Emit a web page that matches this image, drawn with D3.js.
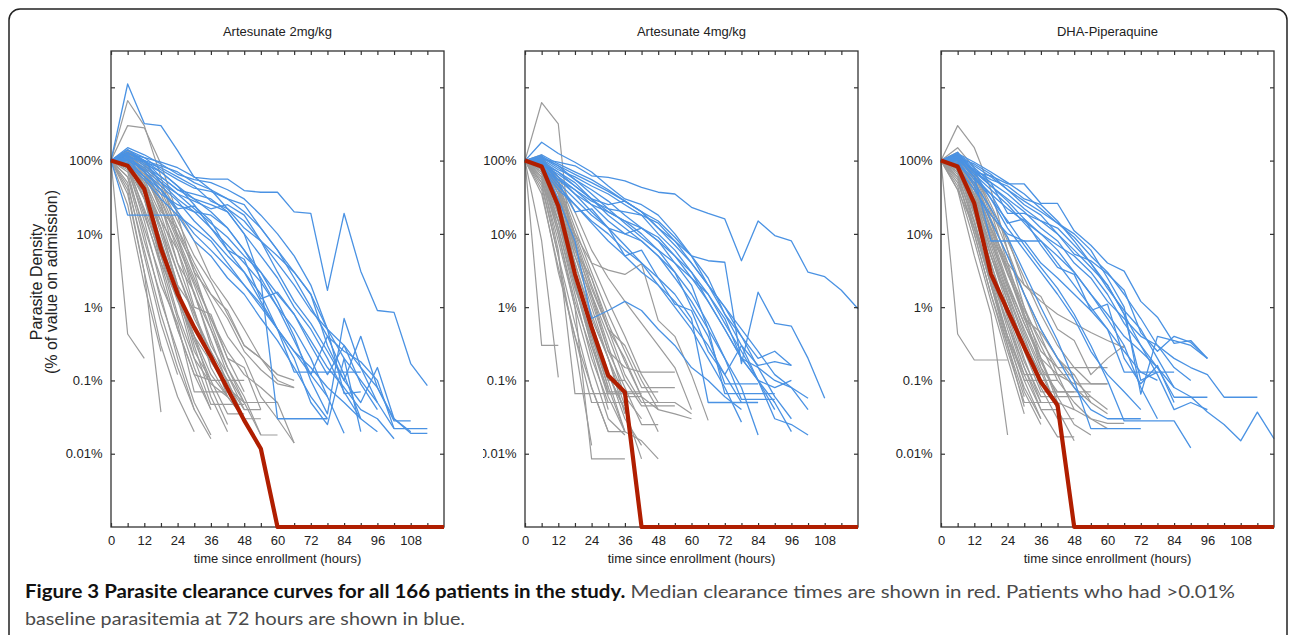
<!doctype html>
<meta charset="utf-8">
<style>
 body { margin: 0; background: #fff; }
 svg text { font-family: "Liberation Sans", Arial, sans-serif; }
 .series path { fill: none; stroke-linejoin: round; }
 .caption text { font-family: Lato, "Open Sans", sans-serif; }
</style>

<svg width="1290" height="635"></svg>

<script src="https://d3js.org/d3.v7.min.js"></script>
<script>
 // Sampling times (hours since enrollment); value k of every series is at hours[k]
 var hours = [0, 6, 12, 18, 24, 30, 36, 42, 48, 54, 60, 66, 72, 78, 84, 90, 96, 102, 108, 114, 120];

 var panelTitles = ['Artesunate 2mg/kg', 'Artesunate 4mg/kg', 'DHA-Piperaquine'];
 var yTicks = [0.01, 0.1, 1, 10, 100, 1000];

 // Parasite density, % of value on admission. 0 = cleared.
 var as2Median = [100, 85, 41, 6.3, 1.52, 0.53, 0.21, 0.077, 0.0285, 0.0117, 0, 0, 0, 0, 0, 0, 0, 0, 0, 0, 0];
 var as4Median = [100, 83, 24, 2.85, 0.53, 0.117, 0.069, 0, 0, 0, 0, 0, 0, 0, 0, 0, 0, 0, 0, 0, 0];
 var dhaMedian = [100, 83, 26, 2.85, 0.9, 0.285, 0.095, 0.046, 0, 0, 0, 0, 0, 0, 0, 0, 0, 0, 0, 0, 0];

 // patients cleared by 72 h (grey)
 var as2Cleared = [
   [100, 660, 300, 60, 9, 1.5, 0.35, 0.09, 0.04],
   [100, 300, 280, 90, 18, 3, 0.6, 0.15, 0.05, 0.05],
   [100, 0.43, 0.2],
   [100, 40, 3, 0.037],
   [100, 130, 60, 12, 2, 0.3, 0.06, 0.02],
   [100, 120, 45, 8, 1.6, 0.25, 0.1, 0.1],
   [100, 110, 30, 5, 0.8, 0.2, 0.047, 0.047, 0.047],
   [100, 90, 20, 3.5, 0.5, 0.12, 0.1],
   [100, 80, 15, 2, 0.6, 0.07, 0.07, 0.07],
   [100, 70, 10, 1.2, 0.25, 0.05, 0.018],
   [100, 60, 8, 1.4, 0.2, 0.04],
   [100, 50, 5, 0.6, 0.12],
   [100, 35, 3, 0.3, 0.06, 0.02],
   [100, 25, 2, 0.25],
   [100, 120, 70, 25, 6, 1.5, 0.5, 0.12, 0.05, 0.018, 0.018],
   [100, 115, 80, 40, 12, 4, 1.5, 0.7, 0.25, 0.14, 0.09, 0.08],
   [100, 130, 85, 35, 10, 3.5, 1.2, 0.4, 0.2, 0.06, 0.03, 0.014],
   [100, 140, 90, 45, 15, 5, 2.2, 0.8, 0.3, 0.2, 0.12, 0.1],
   [100, 110, 60, 25, 4, 1.6, 0.3, 0.12, 0.04, 0.04],
   [100, 100, 50, 15, 3, 0.7, 0.25, 0.06, 0.03],
   [100, 95, 35, 12, 2, 0.9, 0.15, 0.06],
   [100, 105, 55, 18, 4, 0.9, 0.2, 0.1, 0.1],
   [100, 90, 35, 8, 1.5, 0.4, 0.08, 0.025],
   [100, 80, 30, 4, 1.3, 0.2, 0.09, 0.06],
   [100, 75, 18, 4, 0.7, 0.15, 0.04],
   [100, 120, 65, 22, 7, 2, 0.5, 0.15, 0.06, 0.018],
   [100, 100, 45, 12, 3, 0.8, 0.25, 0.1, 0.03],
   [100, 130, 75, 30, 9, 2.5, 0.7, 0.2, 0.07],
   [100, 95, 30, 7, 1.3, 0.35, 0.1, 0.035, 0.035],
   [100, 60, 12, 2.5, 0.5, 0.12, 0.04],
   [100, 110, 50, 10, 1.8, 0.4, 0.12, 0.06, 0.03, 0.03],
   [100, 80, 22, 5, 1.2, 0.4, 0.18, 0.08, 0.05, 0.05, 0.05],
   [100, 125, 70, 28, 8, 2.2, 0.7, 0.25, 0.12, 0.08, 0.05, 0.014],
   [100, 45, 6, 0.8, 0.15, 0.04, 0.016],
   [100, 120, 75, 20, 12, 3, 1.5, 0.9, 0.3, 0.2, 0.1, 0.08],
   [100, 90, 40, 15, 6, 1, 0.8, 0.2, 0.15, 0.04],
   [100, 135, 95, 50, 20, 8, 2.5, 1.2, 0.5, 0.2, 0.12]
 ];

 // patients still above 0.01% at 72 h (blue)
 var as2Persistent = [
   [100, 1110, 320, 300, 137, 59, 56, 56, 39, 37, 37, 20, 19, 1.7, 19, 3.1, 0.9, 0.85, 0.17, 0.085],
   [100, 18, 18, 18, 18, 8, 5, 2.5, 1.5, 0.7, 0.35, 0.15, 0.06, 0.03],
   [100, 120, 85, 60, 40, 30, 25, 20, 10, 2.3, 0.03, 0.03, 0.03, 0.03],
   [100, 130, 90, 70, 45, 30, 20, 12, 6, 3, 1.2, 0.4, 0.1, 0.035, 0.7, 0.15, 0.05, 0.022],
   [100, 140, 110, 75, 55, 42, 38, 30, 20, 12, 6, 2.5, 1, 0.4, 0.25, 0.18, 0.1, 0.022, 0.022, 0.022],
   [100, 115, 95, 80, 60, 45, 28, 22, 15, 8, 4, 2, 0.9, 0.5, 0.3, 0.15, 0.08, 0.028, 0.028],
   [100, 105, 80, 55, 35, 22, 14, 9, 5, 3, 1.5, 0.8, 0.35, 0.15, 0.08, 0.04, 0.03, 0.016],
   [100, 125, 100, 50, 30, 20, 12, 7, 4, 2.2, 1, 0.5, 0.2, 0.06, 0.019],
   [100, 110, 70, 45, 28, 15, 9, 5, 3, 1.5, 0.5, 0.13, 0.13, 0.13, 0.13, 0.13],
   [100, 150, 120, 90, 65, 55, 50, 40, 30, 18, 10, 5, 2, 0.5, 0.066, 0.07],
   [100, 95, 60, 35, 25, 20, 18, 12, 6, 2.5, 1, 0.35, 0.12, 0.4, 0.12, 0.03, 0.02],
   [100, 130, 100, 85, 70, 50, 40, 30, 25, 12, 6, 3, 1.5, 0.3, 0.1, 0.4, 0.08, 0.03, 0.02],
   [100, 110, 100, 70, 45, 25, 12, 6, 3, 1.2, 0.5, 0.25, 0.15, 0.08, 0.05, 0.03],
   [100, 120, 70, 40, 20, 10, 6, 3.5, 2, 1.1, 0.5, 0.2, 0.05, 0.025, 0.2, 0.02],
   [100, 100, 75, 50, 35, 28, 22, 25, 18, 8, 3, 1.2, 0.6, 0.25, 0.1, 0.05, 0.15, 0.03, 0.019, 0.019],
   [100, 140, 100, 60, 40, 35, 30, 20, 10, 5, 2.5, 1, 0.5, 0.2, 0.07, 0.03],
   [100, 90, 55, 30, 18, 12, 8, 4, 2, 1, 0.5, 0.25, 0.12, 0.06],
   [100, 125, 110, 95, 80, 60, 40, 22, 12, 8, 5, 3, 1.5, 0.5, 0.2, 0.1, 0.05],
   [100, 105, 60, 40, 22, 24, 15, 6, 4.5, 1.3, 1.6, 0.8, 0.3, 0.12, 0.3, 0.09, 0.04]
 ];

 var as4Cleared = [
   [100, 620, 316, 2, 0.4, 0.08],
   [100, 0.3, 0.3],
   [100, 8, 0.11],
   [100, 40, 3, 0.4, 0.08, 0.02],
   [100, 60, 6, 0.066, 0.066, 0.066, 0.066, 0.066],
   [100, 70, 10, 1, 0.0085, 0.0085, 0.0085],
   [100, 80, 15, 2, 0.3, 0.06, 0.02, 0.015, 0.0085],
   [100, 50, 5, 0.3, 0.013],
   [100, 90, 20, 3, 0.5, 0.12, 0.04],
   [100, 110, 35, 5, 1.4, 0.25, 0.15, 0.13, 0.13, 0.13],
   [100, 120, 45, 8, 1.8, 0.5, 0.2, 0.06, 0.04, 0.035, 0.03],
   [100, 115, 50, 10, 4, 3.2, 2.8, 3.9, 0.66, 0.4, 0.12, 0.0285],
   [100, 105, 40, 7, 1.5, 0.3, 0.06, 0.03],
   [100, 95, 30, 4, 0.7, 0.2, 0.035],
   [100, 85, 22, 3, 0.5, 0.08, 0.02],
   [100, 75, 18, 2.2, 0.35, 0.066, 0.066],
   [100, 65, 12, 1.5, 0.2, 0.05, 0.05],
   [100, 55, 8, 1, 0.15, 0.03, 0.018],
   [100, 45, 5, 0.6, 0.08, 0.02, 0.02],
   [100, 35, 3.5, 0.4, 0.05, 0.05],
   [100, 100, 35, 6, 1.2, 0.25, 0.08, 0.025, 0.025],
   [100, 110, 45, 9, 2, 0.5, 0.12, 0.05, 0.05, 0.05],
   [100, 90, 25, 4, 0.8, 0.2, 0.06, 0.06],
   [100, 80, 20, 2.8, 0.6, 0.12, 0.04, 0.0085],
   [100, 70, 15, 2, 0.3, 0.07, 0.07, 0.07, 0.07],
   [100, 100, 50, 12, 3, 0.8, 0.25, 0.08, 0.08, 0.08],
   [100, 95, 28, 5, 1, 0.2, 0.045],
   [100, 60, 10, 1.2, 0.25, 0.04],
   [100, 75, 12, 1.8, 0.4, 0.1, 0.02],
   [100, 85, 35, 7, 1.5, 0.4, 0.1, 0.045, 0.045, 0.045],
   [100, 105, 42, 10, 2.5, 0.6, 0.18, 0.06, 0.02],
   [100, 110, 55, 15, 4, 1.2, 0.4, 0.12, 0.05, 0.05, 0.035],
   [100, 95, 20, 2.5, 0.45, 0.1, 0.1],
   [100, 50, 15, 3, 0.6, 0.13, 0.03, 0.013],
   [100, 110, 60, 20, 6, 2.5, 1.2, 0.6, 0.3, 0.15, 0.04],
   [100, 90, 40, 6, 2.5, 0.5, 0.3, 0.1, 0.04]
 ];

 var as4Persistent = [
   [100, 105, 95, 85, 62, 59, 53, 43, 37, 35, 23, 19, 16, 4.3, 15, 9.5, 8, 3, 2.6, 1.7, 0.95],
   [100, 178, 125, 95, 70, 45, 30, 25, 18, 10, 5, 2, 1, 0.4, 0.2, 0.25, 0.16],
   [100, 90, 70, 50, 30, 25, 28, 20, 12, 8, 5, 4.3, 4.1, 0.17, 1.6, 0.6, 0.55, 0.2, 0.057],
   [100, 95, 60, 40, 25, 15, 10, 12, 8, 4, 2, 0.5, 0.066, 0.066, 0.066, 0.066],
   [100, 85, 50, 30, 18, 12, 10, 8, 5, 3, 1.5, 0.6, 0.2, 0.055, 0.055, 0.055],
   [100, 80, 40, 25, 15, 10, 6, 4, 2.5, 1.5, 0.7, 0.05, 0.05, 0.05, 0.05],
   [100, 100, 70, 45, 30, 20, 15, 10, 6, 3, 1, 0.4, 0.09, 0.09, 0.09],
   [100, 90, 65, 45, 30, 18, 12, 8, 5, 2.5, 1.2, 0.5, 0.2, 0.08, 0.018],
   [100, 110, 80, 55, 40, 28, 18, 12, 8, 5, 2.5, 1.2, 0.5, 0.2, 0.1, 0.05, 0.02],
   [100, 120, 90, 70, 55, 40, 28, 20, 12, 7, 4, 2, 1, 0.5, 0.25, 0.12, 0.08, 0.04],
   [100, 95, 55, 35, 20, 12, 7, 4, 2, 1, 0.5, 0.2, 0.08, 0.027],
   [100, 105, 75, 60, 45, 35, 25, 18, 10, 6, 3, 1.2, 0.5, 0.2, 0.15, 0.1, 0.08, 0.057],
   [100, 95, 30, 8, 0.7, 0.9, 1.2, 0.9, 0.5, 0.3, 0.15, 0.1, 0.06, 0.04],
   [100, 110, 85, 65, 50, 38, 28, 20, 15, 9, 5, 2.5, 0.8, 0.3, 0.16, 0.18, 0.16],
   [100, 100, 60, 35, 25, 20, 15, 12, 9, 5, 3, 1.5, 0.7, 0.2, 0.1, 0.08, 0.1],
   [100, 115, 85, 55, 35, 22, 14, 9, 6, 4, 2.5, 1.5, 0.6, 0.25, 0.1, 0.03, 0.025, 0.018],
   [100, 85, 45, 25, 14, 8, 5, 3, 2, 1.2, 0.6, 0.3, 0.12, 0.05],
   [100, 90, 55, 40, 28, 22, 20, 18, 14, 8, 4, 2, 0.8, 0.4, 0.15, 0.06, 0.03],
   [100, 100, 50, 20, 22, 12, 5, 6, 2.5, 1.1, 0.9, 0.25, 0.12, 0.3, 0.1, 0.04]
 ];

 var dhaCleared = [
   [100, 300, 150, 40, 6, 1, 0.2, 0.05],
   [100, 0.43, 0.19, 0.19, 0.19],
   [100, 150, 80, 20, 4, 0.8, 0.15, 0.04],
   [100, 40, 5, 0.8, 0.018],
   [100, 60, 10, 1.5, 0.3, 0.044],
   [100, 80, 15, 2.5, 0.4, 0.1, 0.03],
   [100, 90, 20, 3, 0.6, 0.12, 0.04, 0.017, 0.017],
   [100, 70, 12, 2, 0.35, 0.08, 0.03],
   [100, 100, 35, 6, 1.2, 0.3, 0.1, 0.05, 0.04, 0.03, 0.026, 0.026],
   [100, 110, 45, 12, 4, 2, 1.2, 0.8, 0.6, 0.45, 0.35, 0.28],
   [100, 105, 40, 8, 2, 0.6, 0.2, 0.12, 0.09, 0.09, 0.09],
   [100, 95, 30, 5, 1.4, 0.25, 0.07, 0.07, 0.07],
   [100, 85, 25, 4, 0.8, 0.18, 0.06, 0.06],
   [100, 75, 18, 3, 0.5, 0.1, 0.1, 0.1],
   [100, 65, 14, 2.2, 0.4, 0.07, 0.025],
   [100, 55, 10, 1.5, 0.25, 0.05, 0.05],
   [100, 45, 8, 1.2, 0.2, 0.035],
   [100, 120, 60, 15, 3, 0.7, 0.2, 0.06, 0.025, 0.018],
   [100, 115, 55, 14, 3.5, 1, 0.3, 0.1, 0.05, 0.03, 0.022],
   [100, 100, 50, 12, 3, 0.8, 0.25, 0.15, 0.15, 0.15, 0.15],
   [100, 90, 35, 8, 1.8, 0.5, 0.15, 0.07, 0.07, 0.07],
   [100, 80, 22, 5, 1.2, 0.3, 0.08, 0.03, 0.03],
   [100, 95, 28, 6, 1.5, 0.35, 0.12, 0.12, 0.12],
   [100, 105, 48, 11, 2.8, 0.9, 0.35, 0.15, 0.08, 0.05, 0.035],
   [100, 110, 55, 16, 5, 1.5, 0.5, 0.2, 0.1, 0.06, 0.04],
   [100, 85, 30, 7, 1.6, 0.4, 0.1],
   [100, 70, 20, 4, 0.7, 0.15, 0.05, 0.05],
   [100, 60, 15, 2, 0.3, 0.06],
   [100, 130, 65, 22, 6, 1.5, 0.4, 0.12, 0.04],
   [100, 95, 40, 10, 2.2, 0.6, 0.18, 0.06, 0.06, 0.06],
   [100, 75, 25, 5, 1, 0.2, 0.05, 0.05],
   [100, 50, 12, 2.5, 0.6, 0.15, 0.04, 0.04],
   [100, 120, 70, 25, 8, 2.5, 0.8, 0.3, 0.15, 0.09, 0.09],
   [100, 88, 33, 9, 2, 0.45, 0.13, 0.04, 0.015],
   [100, 40, 12, 2, 0.4, 0.12, 0.12],
   [100, 110, 65, 18, 9, 2, 1.4, 0.5, 0.35, 0.12, 0.2, 0.3],
   [100, 100, 45, 9, 3.5, 0.7, 0.45, 0.2, 0.12, 0.05]
 ];

 var dhaPersistent = [
   [100, 130, 69, 62, 48, 48, 26, 26, 11, 7, 4, 3.1, 1.2, 0.73, 0.32, 0.35, 0.2],
   [100, 120, 80, 50, 19, 19, 15, 10, 5.3, 4.3, 2.85, 1.7, 0.45, 0.25, 0.4, 0.33, 0.2],
   [100, 115, 70, 45, 30, 20, 12, 8, 4, 2.5, 1.2, 0.7, 0.4, 0.3, 0.2, 0.15, 0.12, 0.059, 0.059, 0.059],
   [100, 110, 75, 45, 28, 16, 10, 6, 3, 1.5, 0.8, 0.4, 0.25, 0.15, 0.08, 0.06, 0.037, 0.025, 0.015, 0.037, 0.016],
   [100, 105, 60, 30, 15, 7, 3.5, 1.8, 0.8, 0.3, 0.1, 0.028, 0.028, 0.028, 0.028, 0.012],
   [100, 90, 50, 22, 9, 3, 1, 0.35, 0.1, 0.022, 0.022, 0.022, 0.022],
   [100, 100, 65, 40, 25, 14, 8, 4, 2, 1, 0.5, 0.13, 0.13, 0.13, 0.13],
   [100, 125, 85, 60, 40, 25, 18, 10, 6, 3.5, 2, 0.8, 0.3, 0.15, 0.059, 0.059, 0.059],
   [100, 110, 90, 65, 40, 28, 20, 14, 10, 6, 2.5, 1, 0.065, 0.4, 0.35, 0.3, 0.2],
   [100, 95, 55, 35, 22, 15, 10, 7, 5, 3, 1.5, 0.6, 0.3, 0.12, 0.04, 0.05, 0.04],
   [100, 120, 70, 50, 35, 22, 15, 12, 7, 4, 2, 0.8, 0.1, 0.13],
   [100, 105, 70, 30, 12, 6, 3, 1.5, 0.7, 0.25, 0.12, 0.07, 0.04],
   [100, 80, 40, 18, 10, 8, 8, 5, 3, 1.5, 0.7, 0.3, 0.08, 0.03],
   [100, 100, 45, 15, 5, 1.5, 0.5, 0.2, 0.08, 0.04, 0.03, 0.03, 0.03],
   [100, 110, 60, 8, 8, 8, 4, 2.5, 1.5, 0.9, 0.5, 0.25, 0.13, 0.1],
   [100, 115, 75, 55, 45, 30, 25, 15, 8, 4, 1.8, 0.9, 0.5, 0.2, 0.08],
   [100, 125, 95, 70, 50, 35, 22, 14, 9, 5, 3, 1.5, 0.7, 0.3, 0.15, 0.1],
   [100, 105, 60, 35, 14, 16, 7, 3.5, 2.8, 0.9, 1.1, 0.2, 0.09, 0.16, 0.05]
 ];

 var panels = [
   { title: panelTitles[0], median: as2Median, cleared: as2Cleared, persistent: as2Persistent },
   { title: panelTitles[1], median: as4Median, cleared: as4Cleared, persistent: as4Persistent },
   { title: panelTitles[2], median: dhaMedian, cleared: dhaCleared, persistent: dhaPersistent }
 ];

 // Layout
 var panelLeft = [111, 525, 941];
 var panelTop = 51;
 var width = 333, height = 476;
 var yFloor = 0.001;

 var svg = d3.select('svg');
 svg.append('rect').attr('width', 1290).attr('height', 635).attr('fill', '#fff');
 svg.append('rect')
   .attr('x', 9).attr('y', 9).attr('width', 1278).attr('height', 700).attr('rx', 11)
   .attr('fill', 'none').attr('stroke', '#222').attr('stroke-width', 1.5);

 var x = d3.scaleLinear().domain([0, 120]).range([0, width]);
 var y = d3.scaleLog().domain([yFloor, 3130]).range([height, 0]);

 var line = d3.line()
   .x(function(d, i) { return x(hours[i]); })
   .y(function(d) { return y(d > 0 ? d : yFloor); });

 // panel 2 is cut a little on its left side in the original figure
 svg.append('clipPath').attr('id', 'cut2')
   .append('rect').attr('x', -42).attr('y', -60).attr('width', 500).attr('height', 620);

 panels.forEach(function(p, k) {
   var g = svg.append('g').attr('transform', 'translate(' + panelLeft[k] + ',' + panelTop + ')');
   if (k === 1) g.attr('clip-path', 'url(#cut2)');

   g.append('text')
     .attr('x', width / 2).attr('y', -15)
     .attr('text-anchor', 'middle').attr('font-size', 13).attr('fill', '#222')
     .text(p.title);

   var s = g.append('g').attr('class', 'series');
   s.selectAll('.grey').data(p.cleared).join('path')
     .attr('class', 'grey').attr('d', line)
     .attr('stroke', '#9b9b9b').attr('stroke-width', 1.2);
   s.selectAll('.blue').data(p.persistent).join('path')
     .attr('class', 'blue').attr('d', line)
     .attr('stroke', '#4a92e3').attr('stroke-width', 1.3);

   g.append('rect').attr('width', width).attr('height', height)
     .attr('fill', 'none').attr('stroke', '#333').attr('stroke-width', 1.3);

   var tickHours = hours.slice(0, -1);
   g.append('g').attr('transform', 'translate(0,' + height + ')')
     .call(d3.axisBottom(x).tickValues(tickHours).tickSizeInner(-4).tickSizeOuter(0).tickPadding(9)
       .tickFormat(function(d) { return d % 12 === 0 ? d : ''; }));
   g.append('g')
     .call(d3.axisTop(x).tickValues(tickHours).tickSizeInner(-4).tickSizeOuter(0).tickFormat(''));
   g.append('g')
     .call(d3.axisLeft(y).tickValues(yTicks).tickSizeInner(-4).tickSizeOuter(0).tickPadding(8.5)
       .tickFormat(function(d) { return d === 1000 ? '' : d + '%'; }));
   g.append('g').attr('transform', 'translate(' + width + ',0)')
     .call(d3.axisRight(y).tickValues(yTicks).tickSizeInner(-4).tickSizeOuter(0).tickFormat(''));

   g.selectAll('.domain').remove();
   g.selectAll('.tick line').attr('stroke', '#333').attr('stroke-width', 1.2);
   g.selectAll('.tick text').attr('fill', '#222')
     .attr('font-family', '"Liberation Sans", Arial, sans-serif').attr('font-size', 13);

   g.append('text')
     .attr('x', width / 2).attr('y', height + 36)
     .attr('text-anchor', 'middle').attr('font-size', 13).attr('fill', '#222')
     .text('time since enrollment (hours)');

   g.append('path').attr('class', 'median')
     .attr('d', line(p.median))
     .attr('fill', 'none').attr('stroke', '#b01e00').attr('stroke-width', 4.2)
     .attr('stroke-linejoin', 'round');
 });

 // y axis title
 var yt = svg.append('g').attr('font-size', 16).attr('fill', '#222').attr('text-anchor', 'middle');
 yt.append('text').attr('transform', 'translate(41.5,282) rotate(-90)').text('Parasite Density');
 yt.append('text').attr('transform', 'translate(57,282) rotate(-90)').text('(% of value on admission)');

 // caption
 var cap = svg.append('g').attr('class', 'caption').attr('font-size', 18);
 var l1 = cap.append('text').attr('x', 25).attr('y', 598)
   .attr('textLength', 1210).attr('lengthAdjust', 'spacingAndGlyphs');
 l1.append('tspan').attr('font-weight', 'bold').attr('fill', '#111')
   .text('Figure 3 Parasite clearance curves for all 166 patients in the study.');
 l1.append('tspan').attr('fill', '#4a4a4a')
   .text(' Median clearance times are shown in red. Patients who had >0.01%');
 cap.append('text').attr('x', 25).attr('y', 625).attr('fill', '#4a4a4a')
   .attr('textLength', 440).attr('lengthAdjust', 'spacingAndGlyphs')
   .text('baseline parasitemia at 72 hours are shown in blue.');
</script>
